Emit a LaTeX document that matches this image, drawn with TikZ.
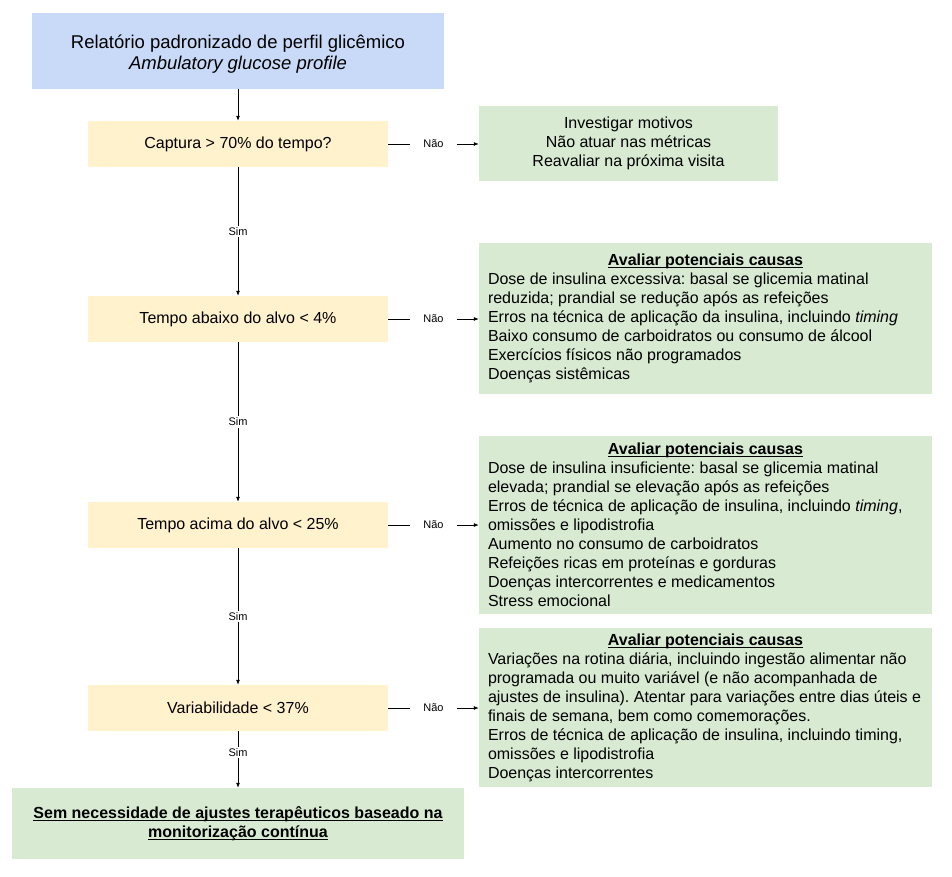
\documentclass[tikz,border=0pt]{standalone}
\usepackage{fontspec}
\setmainfont{Liberation Sans}
\usetikzlibrary{arrows.meta}
\definecolor{boxblue}{HTML}{C9DAF8}
\definecolor{boxyellow}{HTML}{FFF2CC}
\definecolor{boxgreen}{HTML}{D9EAD3}
\newcommand{\ulbox}[1]{\leavevmode\setbox0=\hbox{#1}\rlap{\vrule height -1.6pt depth 2.6pt width \wd0}\box0}
\newcommand{\causetitle}{\makebox[435pt]{\bfseries\ulbox{Avaliar potenciais causas}}}
\begin{document}
\frenchspacing
\begin{tikzpicture}[x=1pt,y=-1pt,
  base/.style={inner sep=0pt, font=\fontsize{16}{19}\selectfont},
  decision/.style={base, fill=boxyellow, minimum width=300pt, minimum height=46pt},
  greenbox/.style={base, fill=boxgreen},
  cause/.style={greenbox, align=left, minimum width=453pt},
  conn/.style={line width=0.8pt, -{Latex[length=5pt,width=4pt]}},
  sim/.style={fill=white, font=\fontsize{11}{13}\selectfont, inner xsep=1pt, inner ysep=1.5pt},
  nao/.style={fill=white, font=\fontsize{11}{13}\selectfont, inner xsep=13pt, inner ysep=2pt}]
\useasboundingbox (0,0) rectangle (952,877);

\node[base, fill=boxblue, minimum width=412pt, minimum height=76pt, align=center,
      font=\fontsize{18.5}{21}\selectfont] (agp) at (238,51)
  {\rule{0pt}{19pt}Relatório padronizado de perfil glicêmico\\ \textit{Ambulatory glucose profile}};

\node[decision] (capt) at (238,144) {Captura > 70\% do tempo?};
\node[decision] (below) at (238,319) {Tempo abaixo do alvo < 4\%};
\node[decision] (above) at (238,525) {Tempo acima do alvo < 25\%};
\node[decision] (var) at (238,708) {Variabilidade < 37\%};

\node[greenbox, minimum width=299pt, minimum height=75pt, align=center] (g1) at (628.5,143.5)
  {Investigar motivos\\Não atuar nas métricas\\Reavaliar na próxima visita};

\node[cause, minimum height=151pt] (g2) at (705.5,318.5)
  {\causetitle\\
   Dose de insulina excessiva: basal se glicemia matinal\\
   reduzida; prandial se redução após as refeições\\
   Erros na técnica de aplicação da insulina, incluindo \textit{timing}\\
   Baixo consumo de carboidratos ou consumo de álcool\\
   Exercícios físicos não programados\\
   Doenças sistêmicas};

\node[cause, minimum height=178pt] (g3) at (705.5,525)
  {\causetitle\\
   Dose de insulina insuficiente: basal se glicemia matinal\\
   elevada; prandial se elevação após as refeições\\
   Erros de técnica de aplicação de insulina, incluindo \textit{timing},\\
   omissões e lipodistrofia\\
   Aumento no consumo de carboidratos\\
   Refeições ricas em proteínas e gorduras\\
   Doenças intercorrentes e medicamentos\\
   Stress emocional};

\node[cause, minimum height=159pt] (g4) at (705.5,707.5)
  {\causetitle\\
   Variações na rotina diária, incluindo ingestão alimentar não\\
   programada ou muito variável (e não acompanhada de\\
   ajustes de insulina). Atentar para variações entre dias úteis e\\
   finais de semana, bem como comemorações.\\
   Erros de técnica de aplicação de insulina, incluindo timing,\\
   omissões e lipodistrofia\\
   Doenças intercorrentes};

\node[greenbox, minimum width=452pt, minimum height=71pt, align=center,
      font=\bfseries\fontsize{16}{18.5}\selectfont] (final) at (238,823.5)
  {\ulbox{Sem necessidade de ajustes terapêuticos baseado na}\\
   \ulbox{monitorização contínua}};

\draw[conn] (agp) -- (capt);
\draw[conn] (capt) -- node[sim]{Sim} (below);
\draw[conn] (below) -- node[sim]{Sim} (above);
\draw[conn] (above) -- node[sim]{Sim} (var);
\draw[conn] (var) -- node[sim, pos=0.37]{Sim} (final);

\draw[conn] (capt.east) -- node[nao]{Não} (capt.east -| g1.west);
\draw[conn] (below.east) -- node[nao]{Não} (below.east -| g2.west);
\draw[conn] (above.east) -- node[nao]{Não} (above.east -| g3.west);
\draw[conn] (var.east) -- node[nao]{Não} (var.east -| g4.west);
\end{tikzpicture}
\end{document}
